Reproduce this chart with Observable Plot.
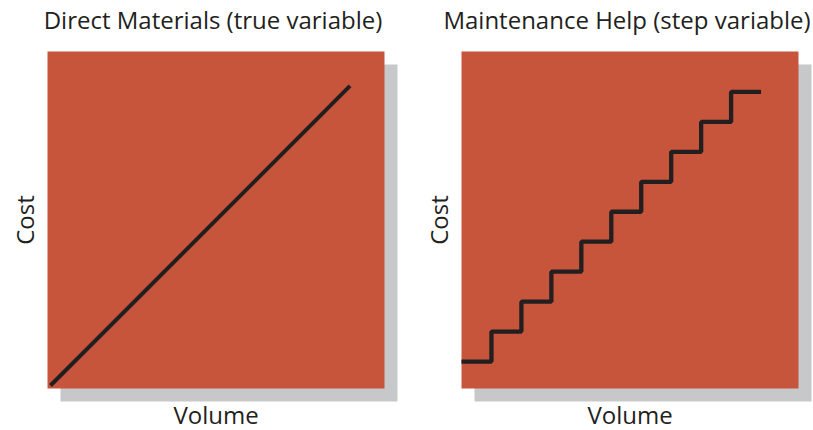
<!DOCTYPE html>
<html>
<head>
<meta charset="utf-8">
<script src="https://cdn.jsdelivr.net/npm/d3@7"></script>
<script src="https://cdn.jsdelivr.net/npm/@observablehq/plot@0.6"></script>
<style>
  html, body { margin: 0; padding: 0; background: #fff; }
</style>
</head>
<body>
<div id="chart"></div>
<script>
// Panel titles (one facet each)
const panels = ["Direct Materials (true variable)", "Maintenance Help (step variable)"];
const xLabel = "Volume";
const yLabel = "Cost";

// Direct materials: cost rises in proportion to volume
const materialsVolume = [0.1, 10.1];
const materialsCost = [0.1, 10.1];

// Maintenance help: cost rises in discrete steps
const helpVolume = [0, 1, 2, 3, 4, 5, 6, 7, 8, 9, 10];
const helpCost = [0.9, 1.9, 2.9, 3.9, 4.9, 5.9, 6.9, 7.9, 8.9, 9.9, 9.9];

const materials = materialsVolume.map((v, i) => ({panel: panels[0], volume: v, cost: materialsCost[i]}));
const help = helpVolume.map((v, i) => ({panel: panels[1], volume: v, cost: helpCost[i]}));

const ink = "#231f20";
const panelFill = "#c6553c";
const shadowFill = "#c7c8ca";

const chart = Plot.plot({
  width: 813,
  height: 430,
  marginLeft: 47,
  marginRight: 15,
  marginTop: 51,
  marginBottom: 42,
  style: {fontFamily: "'Open Sans', sans-serif", color: ink, background: "#fff"},
  fx: {domain: panels, axis: null, paddingInner: 0.186, paddingOuter: 0, round: false},
  x: {domain: [0, 11.25], axis: null},
  y: {domain: [0, 11.25], axis: null},
  marks: [
    Plot.frame({fill: shadowFill, stroke: null, dx: 13, dy: 13}),
    Plot.frame({fill: panelFill, stroke: null}),
    Plot.line(materials, {x: "volume", y: "cost", fx: "panel", stroke: ink, strokeWidth: 4, strokeLinecap: "butt"}),
    Plot.line(help, {x: "volume", y: "cost", fx: "panel", curve: "step-after", stroke: ink, strokeWidth: 4.3, strokeLinejoin: "miter", strokeLinecap: "butt"}),
    Plot.text(panels, {fx: d => d, text: d => d, frameAnchor: "top", textAnchor: "middle", lineAnchor: "bottom", dx: -3, dy: -23, fontSize: 24, fill: ink}),
    Plot.text(panels, {fx: d => d, text: () => xLabel, frameAnchor: "bottom", textAnchor: "middle", lineAnchor: "bottom", dy: 35, fontSize: 24, fill: ink}),
    Plot.text(panels, {fx: d => d, text: () => yLabel, frameAnchor: "left", textAnchor: "middle", lineAnchor: "bottom", rotate: -90, dx: -14, fontSize: 24, fill: ink})
  ]
});

document.getElementById("chart").appendChild(chart);
</script>
</body>
</html>
